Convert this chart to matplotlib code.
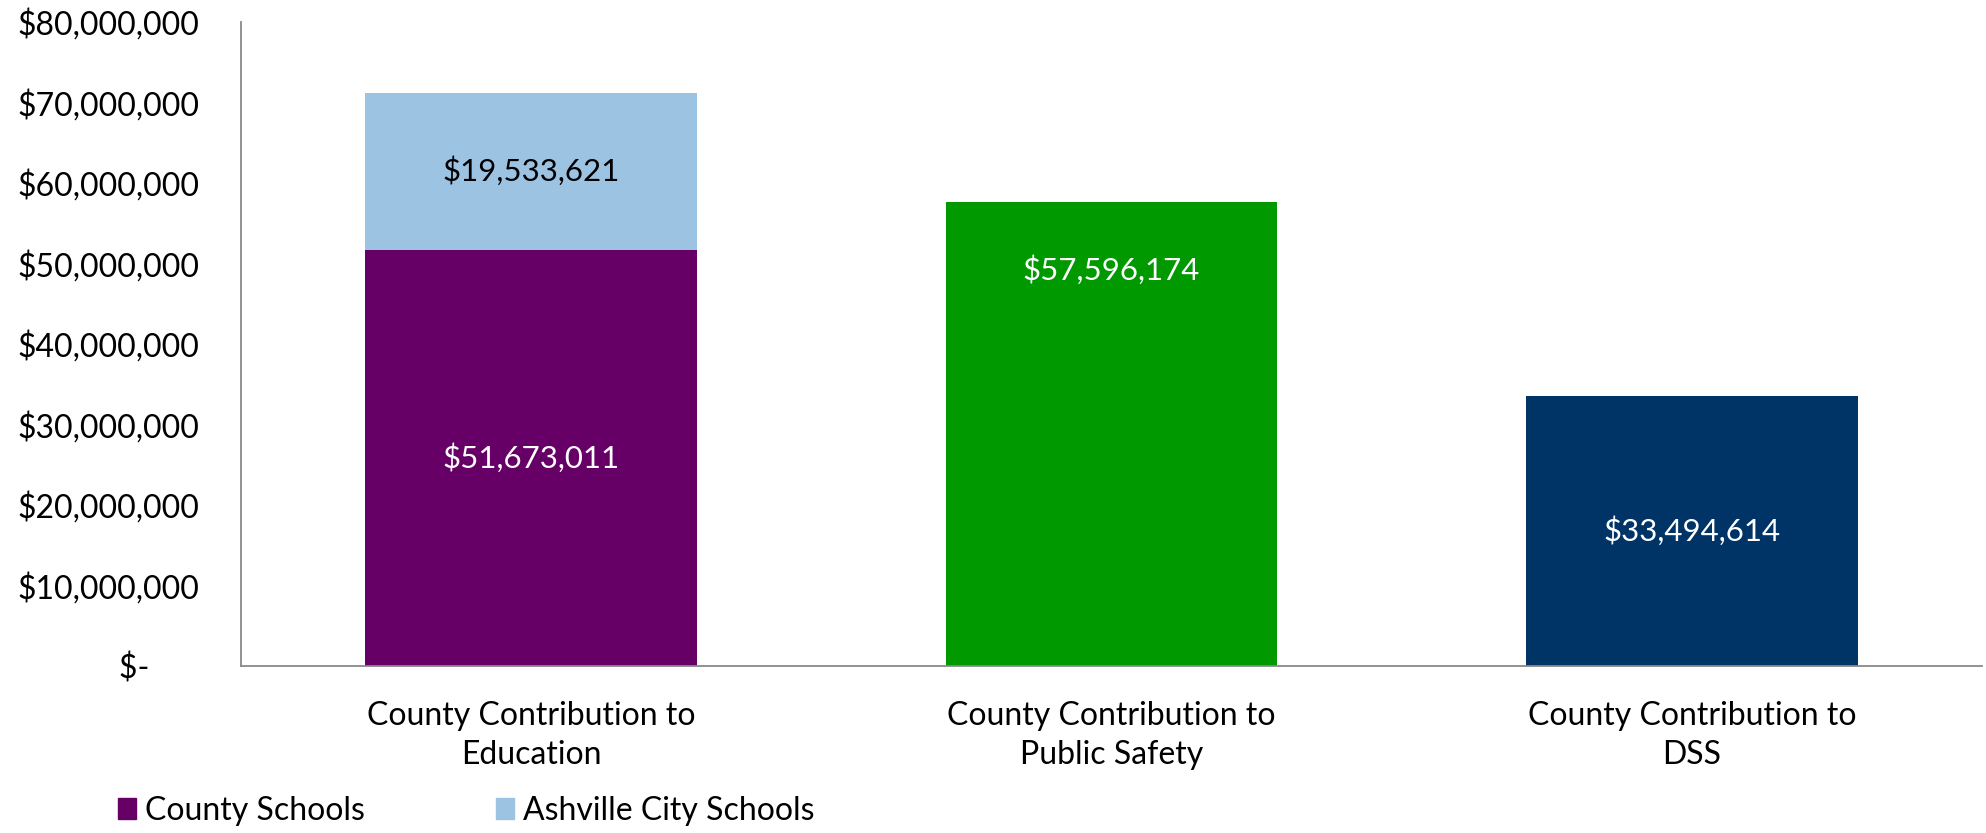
import matplotlib
matplotlib.use("Agg")
import matplotlib.pyplot as plt
from matplotlib.patches import Patch
from matplotlib.ticker import FuncFormatter

plt.rcParams["font.family"] = ["Lato", "DejaVu Sans"]

categories = ["County Contribution to\nEducation",
              "County Contribution to\nPublic Safety",
              "County Contribution to\nDSS"]
county_schools = [51673011, 0, 0]
ashville_schools = [19533621, 0, 0]
public_safety = [0, 57596174, 0]
dss = [0, 0, 33494614]
yticks = [0, 10e6, 20e6, 30e6, 40e6, 50e6, 60e6, 70e6, 80e6]

PURPLE, LBLUE, GREEN, NAVY = "#660066", "#9DC3E3", "#009900", "#003366"

fig = plt.figure(figsize=(19.86, 8.33), dpi=100)
ax = fig.add_axes([241 / 1986, 1 - 666 / 833, 1741 / 1986, (666 - 22) / 833])

x = range(len(categories))
w = 0.572
ax.bar(x[0], county_schools[0], w, color=PURPLE)
ax.bar(x[0], ashville_schools[0], w, bottom=county_schools[0], color=LBLUE)
ax.bar(x[1], public_safety[1], w, color=GREEN)
ax.bar(x[2], dss[2], w, color=NAVY)

money = lambda v: f"${v:,.0f}"
LFS = 22.5
ax.text(0, county_schools[0] / 2, money(county_schools[0]), color="white",
        ha="center", va="center", fontsize=LFS)
ax.text(0, county_schools[0] + ashville_schools[0] / 2, money(ashville_schools[0]),
        color="black", ha="center", va="center", fontsize=LFS)
ax.annotate(money(public_safety[1]), (1, public_safety[1]), xytext=(0, -49),
            textcoords="offset points", color="white", ha="center", va="center",
            fontsize=LFS)
ax.text(2, dss[2] / 2, money(dss[2]), color="white", ha="center", va="center",
        fontsize=LFS)

ax.set_xlim(-0.5, 2.5)
ax.set_ylim(0, 80e6)
ax.set_yticks(yticks)
ax.yaxis.set_major_formatter(FuncFormatter(
    lambda v, p: "$-      " if v == 0 else f"${v:,.0f}"))
ax.set_xticks(list(x))
ax.set_xticklabels(categories, fontsize=23, linespacing=1.4)
ax.tick_params(axis="y", length=0, pad=30, labelsize=23)
ax.tick_params(axis="x", length=0, pad=25)
for s in ("top", "right"):
    ax.spines[s].set_visible(False)
for s in ("left", "bottom"):
    ax.spines[s].set_color("#898989")
    ax.spines[s].set_linewidth(1.3)

handles = [Patch(color=PURPLE, label="County Schools"),
           Patch(color=LBLUE, label="Ashville City Schools")]
fig.legend(handles=handles, loc="center left", bbox_to_anchor=(102 / 1986, 1 - 811 / 833),
           ncol=2, frameon=False, fontsize=23, handlelength=0.55, handleheight=0.65,
           handletextpad=0.3, columnspacing=4.1, borderpad=0)

fig.savefig("out.png", dpi=100)
